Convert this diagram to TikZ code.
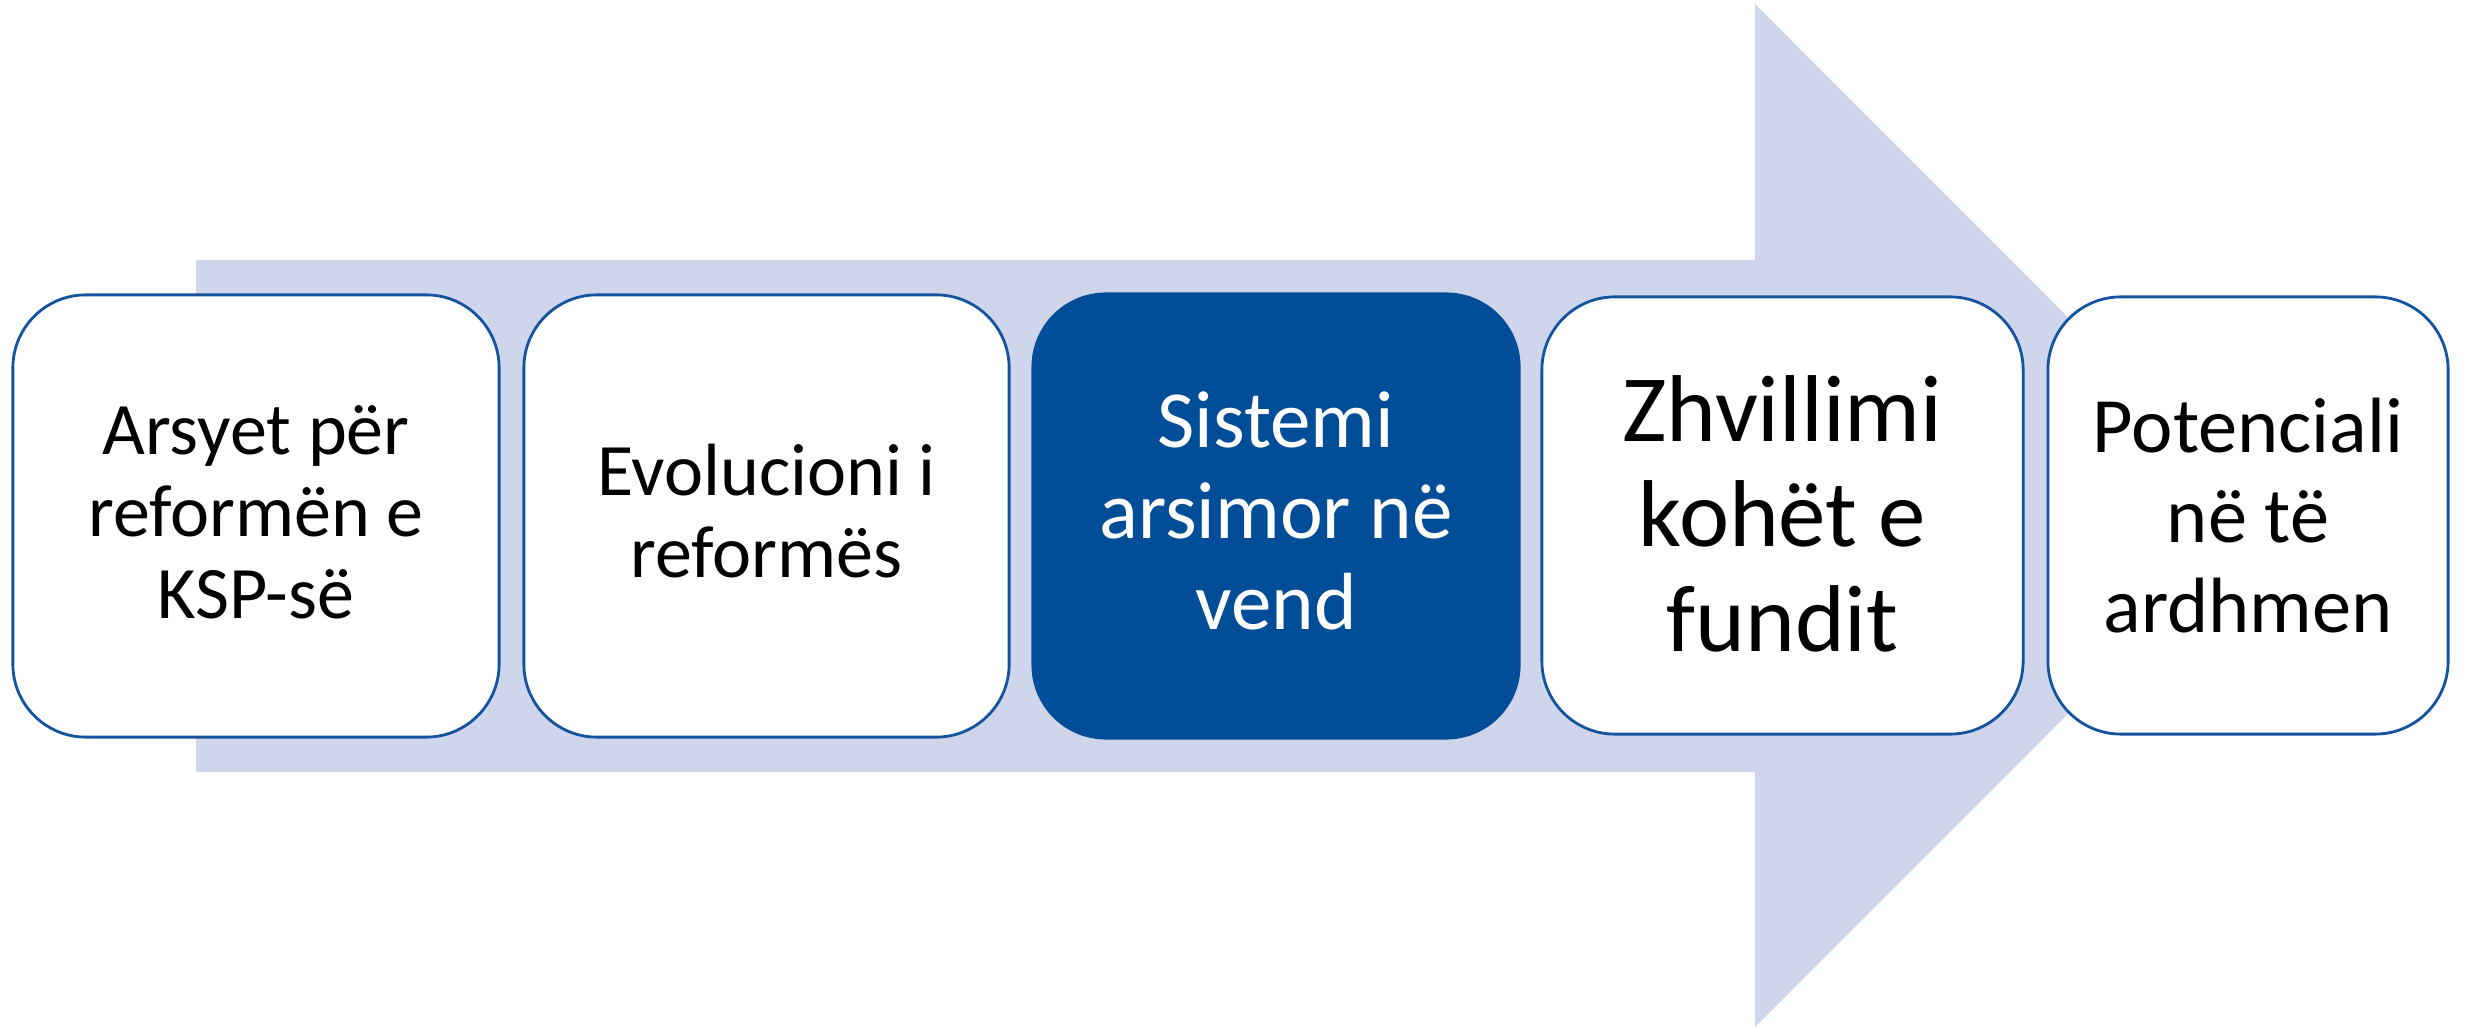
\documentclass[tikz,border=0pt]{standalone}
\usepackage{fontspec}
\setmainfont{Carlito}
\definecolor{arrowfill}{RGB}{207,213,234}
\definecolor{boxblue}{RGB}{2,77,152}
\definecolor{boxline}{RGB}{20,84,158}
\newcommand\topstrut[1]{\rule{0pt}{#1}}
\newcommand\botstrut[1]{\rule[-#1]{0pt}{#1}}
\begin{document}
\begin{tikzpicture}[x=0.01cm,y=-0.01cm,
  stepbox/.style={draw=boxline, line width=0.8pt, fill=white, rounded corners=0.73cm,
    align=center, inner sep=0pt, text=black},
  activebox/.style={stepbox, draw=boxblue, fill=boxblue, text=white},
]
\useasboundingbox (0,0) rectangle (2473,1028);
\fill[arrowfill] (196,260) -- (1755,260) -- (1755,4) -- (2266,515.5) -- (1755,1027) -- (1755,772) -- (196,772) -- cycle;

\node[stepbox, minimum width=4.86cm, minimum height=4.42cm,
  font=\fontsize{21.05pt}{23.33pt}\selectfont] (b1) at (256,516)
  {\topstrut{17.36pt}Arsyet për\\reformën e\\KSP-së\botstrut{5.69pt}};
\node[stepbox, minimum width=4.85cm, minimum height=4.42cm,
  font=\fontsize{21.05pt}{23.33pt}\selectfont] (b2) at (766.5,516)
  {\topstrut{17.36pt}Evolucioni i\\reformës\botstrut{5.69pt}};
\node[activebox, minimum width=4.86cm, minimum height=4.44cm,
  font=\fontsize{23.05pt}{26.0pt}\selectfont] (b3) at (1276,516)
  {\topstrut{18.49pt}Sistemi\\arsimor në\\vend\botstrut{5.69pt}};
\node[stepbox, minimum width=4.81cm, minimum height=4.37cm,
  font=\fontsize{27.0pt}{29.9pt}\selectfont] (b4) at (1782.5,515.5)
  {\topstrut{23.33pt}Zhvillimi\\kohët e\\fundit\botstrut{5.69pt}};
\node[stepbox, minimum width=4.00cm, minimum height=4.37cm,
  font=\fontsize{22.3pt}{25.5pt}\selectfont] (b5) at (2248,515.5)
  {\topstrut{21.06pt}Potenciali\\në të\\ardhmen\botstrut{5.69pt}};
\end{tikzpicture}
\end{document}
